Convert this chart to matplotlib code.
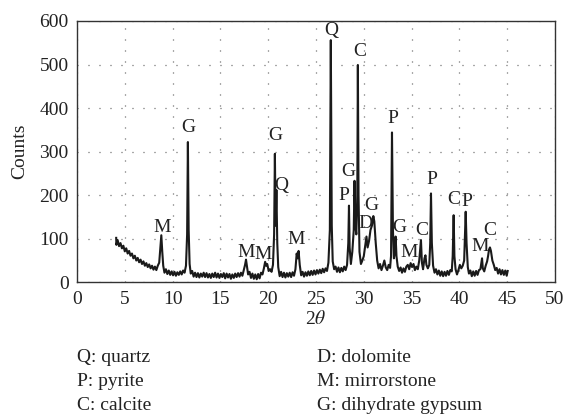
import matplotlib
matplotlib.use("Agg")
import matplotlib.pyplot as plt

plt.rcParams['font.family'] = ['Liberation Serif', 'DejaVu Serif']
plt.rcParams['mathtext.fontset'] = 'stix'

# XRD trace (2theta, counts)
two_theta = [
    4.10, 4.12, 4.25, 4.40, 4.55, 4.70, 4.85, 5.00, 5.15, 5.30, 5.45, 5.60, 5.75, 5.90, 6.05, 6.20,
    6.35, 6.50, 6.65, 6.80, 6.95, 7.10, 7.25, 7.40, 7.55, 7.70, 7.85, 8.00, 8.15, 8.30, 8.45, 8.60,
    8.72, 8.82, 8.92, 9.02, 9.15, 9.30, 9.45, 9.60, 9.75, 9.90, 10.05, 10.20, 10.35, 10.50, 10.65, 10.80,
    10.95, 11.10, 11.25, 11.40, 11.52, 11.60, 11.68, 11.78, 11.90, 12.05, 12.20, 12.35, 12.50, 12.65, 12.80, 12.95,
    13.10, 13.25, 13.40, 13.55, 13.70, 13.85, 14.00, 14.15, 14.30, 14.45, 14.60, 14.75, 14.90, 15.05, 15.20, 15.35,
    15.50, 15.65, 15.80, 15.95, 16.10, 16.25, 16.40, 16.55, 16.70, 16.85, 17.00, 17.15, 17.30, 17.45, 17.58, 17.68,
    17.78, 17.90, 18.05, 18.20, 18.35, 18.50, 18.65, 18.80, 18.95, 19.10, 19.25, 19.40, 19.55, 19.68, 19.78, 19.90,
    20.05, 20.20, 20.35, 20.50, 20.62, 20.70, 20.78, 20.86, 20.95, 21.05, 21.20, 21.35, 21.50, 21.65, 21.80, 21.95,
    22.10, 22.25, 22.40, 22.55, 22.70, 22.85, 22.98, 23.08, 23.18, 23.30, 23.45, 23.60, 23.75, 23.90, 24.05, 24.20,
    24.35, 24.50, 24.65, 24.80, 24.95, 25.10, 25.25, 25.40, 25.55, 25.70, 25.85, 26.00, 26.15, 26.30, 26.45, 26.55,
    26.65, 26.75, 26.90, 27.05, 27.20, 27.35, 27.50, 27.65, 27.80, 27.95, 28.10, 28.25, 28.38, 28.45, 28.52, 28.65,
    28.80, 28.95, 29.03, 29.12, 29.22, 29.32, 29.38, 29.45, 29.55, 29.70, 29.85, 30.00, 30.15, 30.28, 30.40, 30.55,
    30.70, 30.85, 31.00, 31.10, 31.25, 31.40, 31.55, 31.70, 31.85, 32.00, 32.15, 32.30, 32.45, 32.60, 32.75, 32.85,
    32.95, 33.05, 33.15, 33.25, 33.33, 33.42, 33.55, 33.70, 33.85, 34.00, 34.15, 34.30, 34.45, 34.60, 34.75, 34.90,
    35.05, 35.20, 35.35, 35.50, 35.65, 35.80, 35.92, 35.98, 36.08, 36.20, 36.35, 36.45, 36.55, 36.70, 36.85, 36.95,
    37.03, 37.12, 37.25, 37.40, 37.55, 37.70, 37.85, 38.00, 38.15, 38.30, 38.45, 38.60, 38.75, 38.90, 39.05, 39.20,
    39.30, 39.40, 39.48, 39.60, 39.75, 39.90, 40.05, 40.20, 40.35, 40.50, 40.60, 40.66, 40.75, 40.88, 41.00, 41.15,
    41.30, 41.45, 41.60, 41.75, 41.90, 42.05, 42.20, 42.30, 42.37, 42.45, 42.60, 42.75, 42.90, 43.00, 43.10, 43.20,
    43.30, 43.45, 43.60, 43.75, 43.90, 44.05, 44.20, 44.35, 44.50, 44.65, 44.80, 44.95, 45.05,
]
counts = [
    102, 86, 97, 83, 90, 78, 84, 71, 78, 66, 72, 61, 66, 55, 61, 50,
    56, 46, 52, 42, 48, 38, 44, 35, 41, 32, 38, 29, 36, 28, 38, 45,
    80, 108, 70, 38, 22, 30, 19, 27, 17, 25, 16, 24, 15, 23, 17, 25,
    18, 27, 22, 38, 110, 322, 120, 42, 20, 26, 13, 22, 12, 21, 11, 20,
    13, 22, 12, 21, 11, 19, 10, 20, 12, 22, 11, 20, 10, 19, 12, 21,
    9, 20, 11, 19, 8, 18, 10, 20, 12, 21, 13, 22, 15, 28, 40, 52,
    36, 18, 24, 10, 20, 8, 18, 7, 19, 9, 22, 18, 32, 47, 38, 42,
    26, 30, 24, 40, 110, 295, 130, 212, 90, 35, 14, 24, 12, 22, 11, 21,
    13, 22, 12, 23, 15, 30, 66, 55, 72, 40, 16, 24, 13, 23, 15, 25,
    16, 26, 17, 27, 18, 28, 20, 29, 21, 31, 23, 32, 26, 45, 120, 556,
    130, 48, 30, 36, 24, 34, 23, 33, 25, 36, 28, 40, 90, 176, 80, 42,
    70, 120, 233, 130, 110, 200, 499, 200, 70, 42, 50, 60, 85, 105, 80, 95,
    120, 130, 152, 140, 90, 50, 32, 42, 28, 38, 50, 34, 28, 40, 33, 60,
    344, 120, 55, 70, 105, 60, 36, 26, 34, 22, 32, 24, 36, 40, 30, 44,
    35, 42, 28, 36, 30, 50, 80, 97, 45, 30, 55, 62, 40, 32, 40, 90,
    204, 90, 38, 22, 30, 18, 27, 15, 25, 14, 24, 15, 26, 17, 28, 25,
    60, 154, 60, 30, 18, 28, 40, 32, 38, 50, 120, 162, 90, 35, 20, 27,
    14, 25, 15, 26, 17, 28, 30, 45, 55, 32, 25, 38, 48, 60, 75, 80,
    72, 50, 40, 28, 33, 20, 30, 18, 28, 17, 27, 15, 26,
]

# peak labels
peak_labels = ['M', 'G', 'M', 'M', 'G', 'Q', 'M', 'Q', 'P', 'G', 'C', 'D', 'G',
               'P', 'G', 'M', 'C', 'P', 'C', 'P', 'M', 'C']
label_x = [8.86, 11.65, 17.68, 19.5, 20.7, 21.33, 22.9, 26.57, 27.86, 28.38, 29.6, 30.2, 30.75,
           33.09, 33.7, 34.7, 36.05, 37.1, 39.43, 40.8, 42.15, 43.2]
label_y = [125, 355, 69, 63, 338, 222, 99, 578, 200, 254, 530, 135, 176,
           375, 125, 69, 120, 235, 189, 185, 83, 118]

legend_left = ['Q: quartz', 'P: pyrite', 'C: calcite']
legend_right = ['D: dolomite', 'M: mirrorstone', 'G: dihydrate gypsum']

fs = 14
ink = '#222222'

fig = plt.figure(figsize=(5.67, 4.15), dpi=100)
ax = fig.add_axes([0.1358, 0.3198, 0.843, 0.6296])

ax.plot(two_theta, counts, color='#1a1a1a', lw=1.5)

for t, x, y in zip(peak_labels, label_x, label_y):
    ax.text(x, y, t, ha='center', va='center', fontsize=fs, color=ink)

ax.set_xlim(0, 50)
ax.set_ylim(0, 600)
ax.set_xticks(range(0, 51, 5))
ax.set_yticks(range(0, 601, 100))
ax.tick_params(length=0, labelsize=fs, pad=6, colors=ink)
ax.grid(True, color='#555555', linestyle=(0, (0.8, 8)), lw=0.9)
for s in ax.spines.values():
    s.set_color('#333333')
    s.set_linewidth(1.0)

ax.set_ylabel('Counts', fontsize=fs, color=ink, labelpad=8)
ax.set_xlabel(r'2$\theta$', fontsize=fs, color=ink, labelpad=2)

for i, t in enumerate(legend_left):
    fig.text(77 / 567, 1 - (362 + 24 * i) / 415, t, fontsize=fs, va='baseline', color=ink)
for i, t in enumerate(legend_right):
    fig.text(317 / 567, 1 - (362 + 24 * i) / 415, t, fontsize=fs, va='baseline', color=ink)

fig.savefig('out.png', dpi=100)
